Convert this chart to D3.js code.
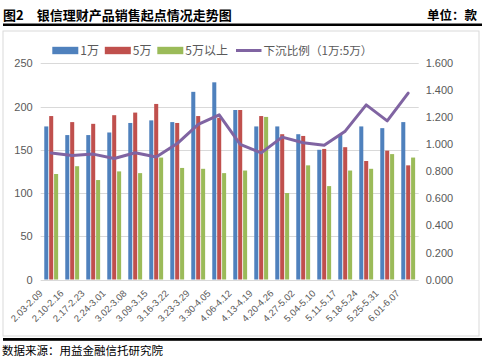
<!DOCTYPE html>
<html><head><meta charset="utf-8">
<script src="https://cdn.jsdelivr.net/npm/d3@7/dist/d3.min.js"></script>
<style>
html,body{margin:0;padding:0;background:#fff;}
svg{display:block;}
</style></head>
<body>
<svg id="c" width="486" height="360"></svg>
<script>
const categories = ["2.03-2.09","2.10-2.16","2.17-2.23","2.24-3.01","3.02-3.08","3.09-3.15","3.16-3.22","3.23-3.29","3.30-4.05","4.06-4.12","4.13-4.19","4.20-4.26","4.27-5.02","5.04-5.10","5.11-5.17","5.18-5.24","5.25-5.31","6.01-6.07"];
const val1w = [177,167,167,170,181,184,182,217,228,196,177,177,168,150,168,177,175,182];
const val5w = [189,182,180,190,193,203,181,189,187,196,189,168,166,151,153,137,149,132];
const valAbove5w = [122,131,115,125,123,141,129,128,123,126,188,100,132,108,126,128,145,141];
const ratio = [0.937,0.918,0.928,0.895,0.938,0.906,1.006,1.148,1.219,1.000,0.937,1.054,1.012,0.993,1.098,1.292,1.174,1.379];
const leftTicks = [0,50,100,150,200,250];
const rightTicks = [0,0.2,0.4,0.6,0.8,1.0,1.2,1.4,1.6];
const seriesNames = ["1万","5万","5万以上","下沉比例（1万:5万）"];

const colors = ["#4F81BD","#C0504D","#9BBB59","#8064A2"];
const svg = d3.select("#c");
const cjk = "'Noto Sans CJK SC', sans-serif";
const num = "'Liberation Sans', Arial, sans-serif";
const grey = "#595959";

// Header
svg.append("text").attr("x",3).attr("y",19.5).attr("font-family",cjk).attr("font-weight","bold")
  .attr("font-size",13).attr("fill","#000").text("图2　银信理财产品销售起点情况走势图");
svg.append("text").attr("x",477).attr("y",19.5).attr("text-anchor","end").attr("font-family",cjk).attr("font-weight","bold")
  .attr("font-size",12.5).attr("fill","#000").text("单位：款");
svg.append("rect").attr("x",3).attr("y",23.5).attr("width",479).attr("height",2.5).attr("fill","#000");

// chart frame
svg.append("rect").attr("x",3).attr("y",31).attr("width",476).attr("height",305)
  .attr("fill","none").attr("stroke","#d9d9d9").attr("stroke-width",1);

// footer
svg.append("rect").attr("x",3).attr("y",338).attr("width",479).attr("height",2.8).attr("fill","#000");
svg.append("text").attr("x",2).attr("y",355).attr("font-family",cjk).attr("font-size",11.5)
  .attr("fill","#000").text("数据来源：用益金融信托研究院");

const L = 40.7, R = 418.7, T = 63.3, B = 279.5;
const x0 = d3.scaleBand().domain(categories).range([L,R]).paddingInner(0.34).paddingOuter(0.17);
const keys = [0,1,2];
const x1 = d3.scaleBand().domain(keys).range([0,x0.bandwidth()]).paddingInner(0.18);
const yL = d3.scaleLinear().domain([0,250]).range([B,T]);
const yR = d3.scaleLinear().domain([0,1.6]).range([B,T]);

// gridlines
svg.append("g").selectAll("line").data(leftTicks).join("line")
  .attr("x1",L).attr("x2",R).attr("y1",d=>Math.round(yL(d))+0.5).attr("y2",d=>Math.round(yL(d))+0.5)
  .attr("stroke","#d9d9d9").attr("stroke-width",1);

// left axis labels
const axL = d3.axisLeft(yL).tickValues(leftTicks).tickSize(0).tickPadding(8).tickFormat(d3.format("d"));
const gL = svg.append("g").attr("transform",`translate(${L},0)`).call(axL);
gL.select(".domain").remove();
gL.selectAll("text").attr("font-family",num).attr("font-size",11).attr("fill",grey);

const axR = d3.axisRight(yR).tickValues(rightTicks).tickSize(0).tickPadding(7).tickFormat(d3.format(".3f"));
const gR = svg.append("g").attr("transform",`translate(${R},0)`).call(axR);
gR.select(".domain").remove();
gR.selectAll("text").attr("font-family",num).attr("font-size",11).attr("fill",grey);

// bars
const seriesVals = [val1w,val5w,valAbove5w];
const rows = categories.map((c,i)=>({c, vals: seriesVals.map(s=>s[i])}));
const grp = svg.append("g").selectAll("g").data(rows).join("g")
  .attr("transform",d=>`translate(${x0(d.c)},0)`);
grp.selectAll("rect").data(d=>d.vals.map((v,k)=>({k,v}))).join("rect")
  .attr("x",d=>x1(d.k)).attr("width",x1.bandwidth())
  .attr("y",d=>yL(d.v)).attr("height",d=>B-yL(d.v))
  .attr("fill",d=>colors[d.k]);

// line
const line = d3.line().x((d,i)=>x0(categories[i])+x0.bandwidth()/2).y(d=>yR(d));
svg.append("path").datum(ratio).attr("d",line).attr("fill","none")
  .attr("stroke",colors[3]).attr("stroke-width",3).attr("stroke-linejoin","round").attr("stroke-linecap","round");

// x labels
svg.append("g").selectAll("text").data(categories).join("text")
  .attr("transform",d=>`translate(${x0(d)+x0.bandwidth()/2-8},294) rotate(-45)`)
  .attr("text-anchor","end").attr("font-family",num).attr("font-size",9.5).attr("fill",grey)
  .text(d=>d);

// legend
const legX = [52.3,104.8,157.3,236];
const legY = 50.5;
const lg = svg.append("g");
seriesNames.forEach((n,i)=>{
  if(i<3){
    lg.append("rect").attr("x",legX[i]).attr("y",legY-3.7).attr("width",26).attr("height",7.4).attr("fill",colors[i]);
  } else {
    lg.append("line").attr("x1",legX[i]).attr("x2",legX[i]+25.5).attr("y1",legY).attr("y2",legY)
      .attr("stroke",colors[3]).attr("stroke-width",3);
  }
  lg.append("text").attr("x",legX[i]+(i<3?28:27.5)).attr("y",legY+4.3).attr("font-family",cjk)
    .attr("font-size",i<3?12:11.6).attr("fill",grey).text(n);
});
</script>
</body></html>
